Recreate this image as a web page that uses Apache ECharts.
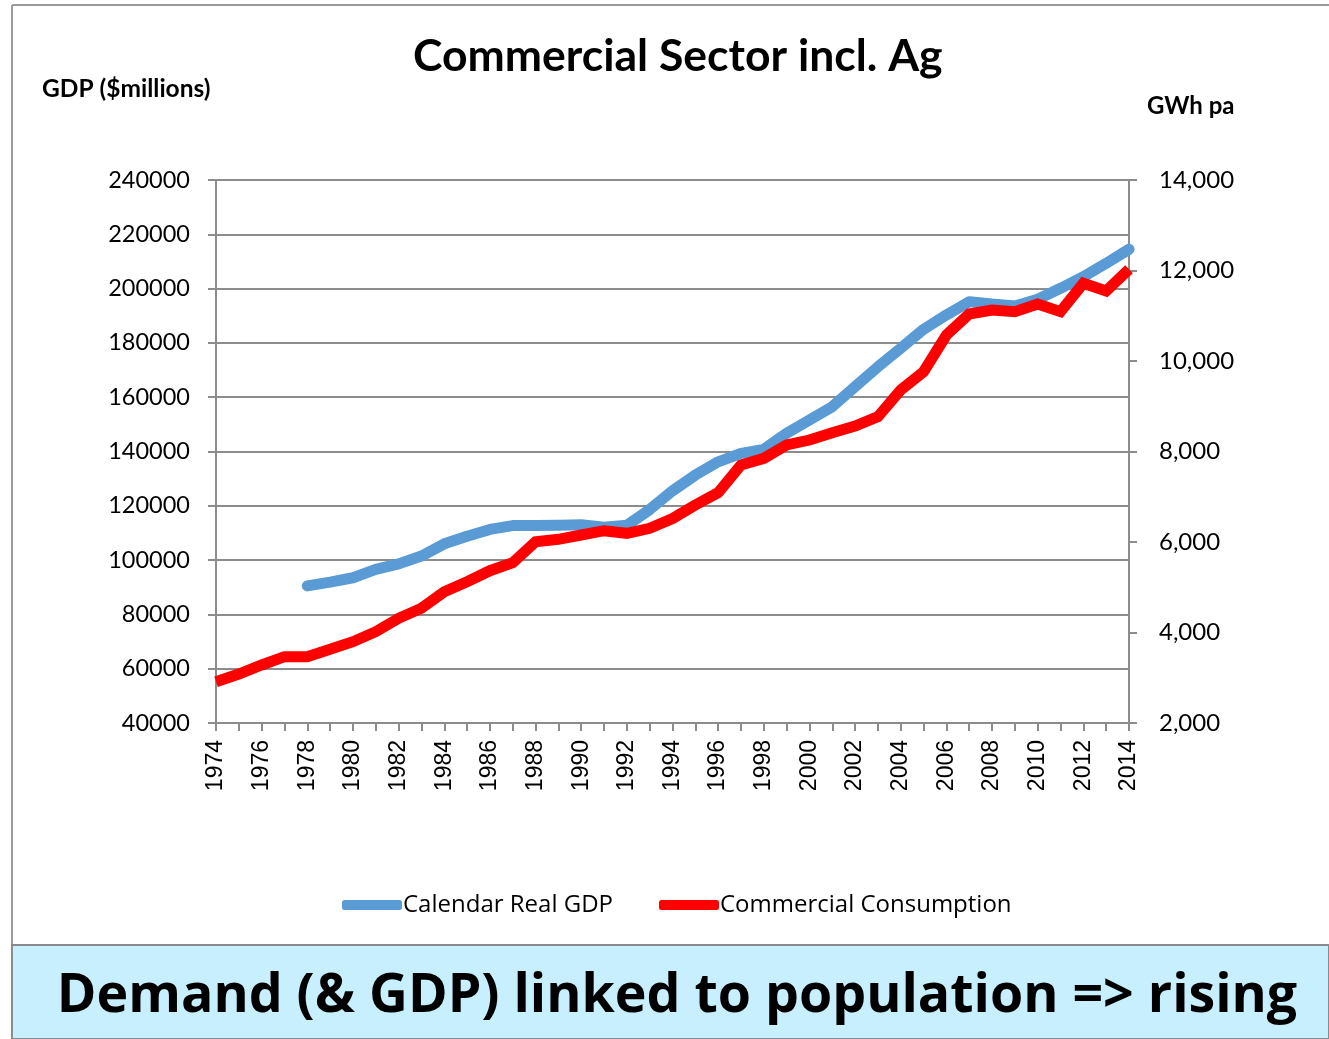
<!DOCTYPE html>
<html>
<head>
<meta charset="utf-8">
<script src="https://cdn.jsdelivr.net/npm/echarts@6/dist/echarts.min.js"></script>
<style>
  html, body { margin: 0; padding: 0; background: #ffffff; }
  #chart { width: 1329px; height: 1039px; }
</style>
</head>
<body>
<div id="chart"></div>
<script>
const years = [];
for (let y = 1974; y <= 2014; y++) years.push(String(y));

// Calendar Real GDP ($millions), left axis — starts in 1978
const gdp = [null, null, null, null,
  90500, 91900, 93500, 96600, 98600, 101500, 106000, 108800, 111300, 112700,
  112700, 112800, 113000, 112100, 112800, 118600, 125500, 131300, 136200, 139300,
  140800, 146700, 151600, 156500, 163900, 171200, 178000, 185000, 190300, 195200,
  194300, 193600, 196100, 200100, 204400, 209300, 214500];

// Commercial Consumption (GWh pa), right axis
const consumption = [2913, 3083, 3282, 3466, 3466, 3629, 3797, 4018, 4314, 4535,
  4900, 5123, 5366, 5543, 6007, 6059, 6155, 6250, 6192, 6303,
  6520, 6818, 7090, 7702, 7850, 8144, 8254, 8416, 8564, 8769,
  9359, 9764, 10575, 11039, 11127, 11090, 11260, 11090, 11717, 11547, 12027];

const FONT = 'Lato';
const FONT2 = 'Open Sans';
const chart = echarts.init(document.getElementById('chart'));
chart.setOption({
  animation: false,
  backgroundColor: '#ffffff',
  title: {
    text: 'Commercial Sector incl. Ag',
    left: 408,
    top: 29,
    textStyle: { fontFamily: FONT, fontWeight: 'bold', fontSize: 44.5, color: '#000' }
  },
  legend: {
    bottom: 122,
    left: 342,
    padding: 0,
    itemWidth: 60,
    itemHeight: 10,
    itemGap: 46,
    icon: 'roundRect',
    textStyle: { fontFamily: FONT2, fontSize: 24, color: '#000', padding: [0, 0, 0, -4] },
    data: ['Calendar Real GDP', 'Commercial Consumption']
  },
  grid: { left: 216, right: 200, top: 180, bottom: 316 },
  xAxis: {
    type: 'category',
    data: years,
    boundaryGap: false,
    axisLine: { lineStyle: { color: '#8c8c8c', width: 2 } },
    axisTick: { show: true, interval: 0, length: 8, lineStyle: { color: '#8c8c8c', width: 2 } },
    axisLabel: { interval: 1, rotate: 90, margin: 17, fontFamily: 'Liberation Sans', fontSize: 23, color: '#000' },
    splitLine: { show: false }
  },
  yAxis: [
    {
      type: 'value', min: 40000, max: 240000, interval: 20000,
      axisLine: { show: true, lineStyle: { color: '#8c8c8c', width: 2 } },
      axisTick: { show: true, length: 8, lineStyle: { color: '#8c8c8c', width: 2 } },
      axisLabel: { margin: 26, fontFamily: FONT, fontSize: 23.5, color: '#000', formatter: v => String(v) },
      splitLine: { show: true, lineStyle: { color: '#8c8c8c', width: 2 } }
    },
    {
      type: 'value', min: 2000, max: 14000, interval: 2000, position: 'right',
      axisLine: { show: true, lineStyle: { color: '#8c8c8c', width: 2 } },
      axisTick: { show: true, length: 8, lineStyle: { color: '#8c8c8c', width: 2 } },
      axisLabel: {
        margin: 30, fontFamily: FONT, fontSize: 24, color: '#000',
        formatter: v => v.toLocaleString('en-US')
      },
      splitLine: { show: false }
    }
  ],
  series: [
    {
      name: 'Calendar Real GDP', type: 'line', yAxisIndex: 0, data: gdp,
      symbol: 'none', smooth: false,
      lineStyle: { color: '#5B9BD5', width: 11, cap: 'round', join: 'round' },
      itemStyle: { color: '#5B9BD5' }
    },
    {
      name: 'Commercial Consumption', type: 'line', yAxisIndex: 1, data: consumption,
      symbol: 'none', smooth: false,
      lineStyle: { color: '#FF0000', width: 11, cap: 'butt', join: 'miter' },
      itemStyle: { color: '#FF0000' }
    }
  ],
  graphic: [
    { type: 'line', shape: { x1: 12, y1: 5, x2: 1329, y2: 5 }, style: { stroke: '#9a9a9a', lineWidth: 2 } },
    { type: 'line', shape: { x1: 12, y1: 5, x2: 12, y2: 945 }, style: { stroke: '#9a9a9a', lineWidth: 2 } },
    { type: 'rect', shape: { x: 12, y: 945, width: 1317, height: 94 }, style: { fill: '#C7EFFD', stroke: '#8a8a8a', lineWidth: 2 } },
    { type: 'text', x: 677, y: 997, style: { text: 'Demand (& GDP) linked to population => rising', fontFamily: FONT2, fontWeight: 'bold', fontSize: 53.7, fill: '#000', align: 'center', verticalAlign: 'middle' } },
    { type: 'text', x: 42, y: 89, style: { text: 'GDP ($millions)', fontFamily: FONT, fontWeight: 'bold', fontSize: 24.5, fill: '#000', align: 'left', verticalAlign: 'middle' } },
    { type: 'text', x: 1147, y: 106, style: { text: 'GWh pa', fontFamily: FONT, fontWeight: 'bold', fontSize: 24, fill: '#000', align: 'left', verticalAlign: 'middle' } }
  ]
});
</script>
</body>
</html>
